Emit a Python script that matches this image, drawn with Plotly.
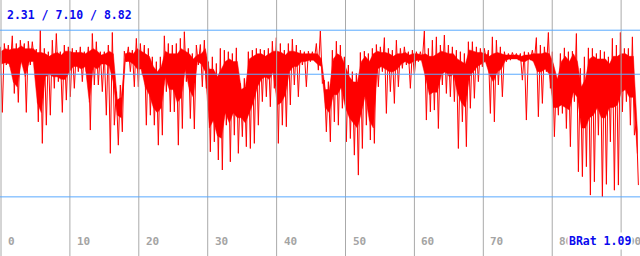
import numpy as np
import plotly.graph_objects as go

# Signal read per ~0.58 x-unit column (value scale 0..10)
# peak / trough: extreme excursions in each column
peak = [
    8.17, 8.30, 8.24, 8.60, 8.30, 8.43, 8.30, 8.39, 8.37, 8.08, 8.82, 8.11, 7.98, 8.43, 8.69, 7.98,
    8.24, 8.17, 8.11, 8.04, 8.17, 7.98, 8.17, 8.69, 8.37, 7.98, 7.98, 8.24, 8.73, 6.42, 6.68, 8.00,
    8.17, 8.04, 8.50, 8.30, 8.24, 8.11, 7.78, 7.59, 7.78, 8.60, 8.30, 8.24, 8.30, 8.50, 8.76, 8.11,
    7.91, 8.24, 8.26, 8.43, 7.59, 7.78, 7.52, 8.11, 8.04, 7.98, 7.91, 8.13, 6.74, 6.94, 7.98, 8.04,
    8.11, 8.08, 8.04, 8.11, 8.39, 8.53, 8.30, 8.04, 8.30, 8.47, 8.24, 8.04, 7.98, 8.00, 7.98, 8.30,
    8.79, 6.87, 6.81, 8.04, 8.39, 8.24, 7.78, 7.46, 7.20, 7.13, 7.95, 8.00, 7.91, 8.11, 8.26, 8.17,
    8.53, 8.11, 8.04, 8.43, 8.11, 8.17, 7.98, 8.04, 7.98, 7.98, 8.79, 8.11, 8.43, 8.56, 8.24, 8.63,
    8.24, 8.17, 8.04, 7.98, 7.91, 8.37, 8.37, 8.17, 8.11, 8.11, 8.04, 8.56, 8.43, 8.17, 7.98, 7.91,
    7.95, 7.91, 7.91, 7.98, 7.95, 8.04, 8.53, 8.24, 8.17, 8.73, 7.98, 6.94, 7.91, 8.13, 7.98, 8.00,
    8.69, 7.33, 7.78, 8.13, 8.11, 7.91, 8.04, 7.98, 7.78, 8.50, 8.24, 8.73, 8.11, 8.11, 8.56, 5.24,
]
trough = [
    5.61, 7.46, 7.39, 6.35, 6.00, 7.59, 5.61, 7.46, 7.59, 5.24, 4.40, 5.11, 5.50, 6.55, 6.81, 5.61,
    6.09, 6.22, 6.55, 7.20, 6.81, 7.20, 4.92, 6.68, 6.68, 6.42, 5.50, 4.01, 5.11, 4.33, 4.85, 7.59,
    7.20, 6.61, 6.61, 7.07, 5.11, 5.50, 5.11, 4.33, 4.72, 6.42, 5.63, 5.63, 4.33, 4.98, 6.81, 5.37,
    4.96, 7.46, 6.61, 6.55, 4.07, 4.46, 3.75, 3.36, 5.11, 3.68, 4.72, 4.01, 4.66, 4.27, 4.20, 4.40,
    5.11, 6.03, 6.22, 5.83, 6.55, 4.40, 5.11, 5.05, 5.90, 6.68, 6.22, 7.46, 6.61, 7.59, 7.65, 7.26,
    6.74, 4.85, 4.46, 5.24, 5.11, 5.77, 4.46, 4.59, 3.94, 3.16, 4.20, 5.11, 4.53, 4.40, 6.61, 7.20,
    5.57, 6.42, 5.96, 6.61, 7.33, 7.46, 6.55, 7.07, 7.59, 7.65, 5.31, 5.63, 5.70, 4.98, 6.68, 6.35,
    6.22, 6.03, 4.20, 5.24, 4.27, 5.77, 6.16, 6.81, 7.39, 7.59, 5.57, 5.24, 6.68, 6.22, 7.59, 7.65,
    7.72, 7.65, 6.87, 5.31, 7.65, 7.59, 5.44, 5.96, 7.20, 6.55, 4.66, 5.50, 5.57, 4.98, 4.27, 6.03,
    3.29, 3.10, 3.49, 2.38, 2.90, 4.72, 2.31, 2.80, 4.46, 2.57, 2.77, 5.63, 6.03, 5.11, 4.72, 2.77,
]
# band_top / band_bottom: limits of the densely filled core of the signal in each column
band_top = [
    8.00, 8.10, 8.05, 8.10, 8.10, 8.20, 8.10, 8.10, 8.10, 7.95, 7.95, 7.90, 7.80, 7.90, 7.95, 7.85,
    8.00, 8.00, 7.95, 7.95, 7.95, 7.90, 8.00, 8.10, 8.00, 7.85, 7.90, 8.00, 7.90, 6.10, 6.20, 7.90,
    7.95, 7.90, 8.10, 8.00, 7.90, 7.80, 7.40, 7.20, 7.40, 8.00, 7.90, 7.90, 7.90, 8.10, 8.00, 7.90,
    7.70, 7.85, 7.90, 8.10, 7.30, 7.30, 7.00, 7.30, 7.60, 7.70, 7.60, 7.60, 6.50, 6.60, 7.70, 7.80,
    7.90, 7.90, 7.80, 7.90, 8.00, 8.00, 7.95, 7.85, 8.00, 8.00, 7.95, 7.90, 7.90, 7.90, 7.90, 7.90,
    7.70, 6.50, 6.50, 7.70, 7.90, 7.80, 7.40, 7.00, 6.80, 6.80, 7.60, 7.80, 7.60, 7.90, 8.00, 7.95,
    7.95, 7.90, 7.80, 7.90, 7.90, 7.95, 7.85, 7.90, 7.90, 7.85, 7.90, 7.80, 7.80, 7.90, 8.00, 7.95,
    7.90, 7.90, 7.70, 7.60, 7.50, 8.05, 8.00, 7.95, 7.95, 7.90, 7.80, 7.90, 7.95, 7.90, 7.85, 7.85,
    7.85, 7.85, 7.80, 7.85, 7.85, 7.90, 7.90, 7.90, 7.95, 7.90, 7.50, 6.90, 7.60, 7.80, 7.60, 7.90,
    7.60, 6.60, 6.90, 7.70, 7.80, 7.70, 7.70, 7.70, 7.50, 7.80, 7.80, 7.90, 7.90, 7.80, 7.80, 4.90,
]
band_bottom = [
    7.50, 7.55, 7.50, 6.80, 6.60, 7.60, 7.00, 7.60, 7.60, 6.00, 5.60, 7.00, 7.10, 7.00, 7.00, 6.90,
    6.90, 7.20, 7.40, 7.40, 7.30, 7.40, 6.00, 7.40, 7.30, 7.50, 7.50, 7.40, 6.80, 5.50, 5.40, 7.60,
    7.60, 7.50, 7.30, 7.30, 6.60, 6.30, 5.80, 5.60, 5.80, 7.00, 6.50, 6.50, 6.00, 6.20, 7.30, 6.50,
    6.20, 7.60, 7.50, 7.20, 5.00, 5.30, 4.70, 4.60, 5.60, 5.20, 5.60, 5.40, 5.40, 5.20, 5.60, 6.00,
    6.60, 6.90, 7.00, 6.90, 7.20, 5.90, 6.00, 6.30, 7.20, 7.40, 7.40, 7.60, 7.60, 7.65, 7.65, 7.50,
    7.40, 5.80, 5.60, 6.30, 6.30, 6.60, 5.80, 5.40, 5.20, 5.00, 5.60, 6.30, 5.30, 5.00, 7.30, 7.40,
    7.30, 7.20, 7.20, 7.30, 7.50, 7.60, 7.50, 7.60, 7.65, 7.65, 7.00, 6.30, 6.40, 6.40, 7.10, 7.20,
    7.00, 7.10, 6.40, 6.00, 5.80, 7.00, 7.20, 7.40, 7.50, 7.60, 7.10, 6.80, 7.20, 7.30, 7.65, 7.70,
    7.70, 7.70, 7.60, 7.60, 7.70, 7.60, 7.20, 7.20, 7.30, 7.10, 5.80, 5.80, 5.90, 5.80, 5.70, 6.40,
    6.20, 5.00, 5.00, 5.40, 5.50, 5.80, 5.40, 5.40, 5.80, 5.80, 5.90, 6.40, 6.50, 6.20, 6.20, 4.00,
]

ref_levels = [2.31, 7.10, 8.82]
stats_text = "2.31 / 7.10 / 8.82"
x_ticks = [0, 10, 20, 30, 40, 50, 60, 70, 80, 90]
brat_text = "BRat 1.09"

t_start = -0.1
column_step = 0.5806  # x-units per column
n_col = len(peak)
col_t = t_start + np.arange(n_col) * column_step
values = np.column_stack([peak, trough]).ravel()
t = np.column_stack([col_t, col_t + column_step / 2]).ravel()
band_t = col_t + column_step / 4

fig = go.Figure()
# dense core of the signal
fig.add_trace(go.Scatter(
    x=np.concatenate([band_t, band_t[::-1]]),
    y=np.concatenate([band_top, band_bottom[::-1]]),
    mode="lines", fill="toself", fillcolor="#ff0000",
    line=dict(color="#ff0000", width=0.5), hoverinfo="skip"))
# spiky excursions
fig.add_trace(go.Scatter(x=t, y=values, mode="lines",
                         line=dict(color="#ff0000", width=1), hoverinfo="skip"))

shapes = []
for v in x_ticks:
    shapes.append(dict(type="line", xref="x", yref="paper", x0=v, x1=v, y0=0, y1=1,
                       line=dict(color="#aaaaaa", width=1), layer="above"))
for lv in ref_levels:
    shapes.append(dict(type="line", xref="paper", yref="y", x0=0, x1=1, y0=lv, y1=lv,
                       line=dict(color="#5aaaff", width=1), layer="above"))

annotations = []
label_y = (256 - 241) / 256
for v in x_ticks:
    annotations.append(dict(x=v, y=label_y, xref="x", yref="paper", text=str(v),
                            showarrow=False, xanchor="left", yanchor="middle", xshift=5,
                            font=dict(family="DejaVu Sans Mono", size=11, color="#a4a4a4",
                                      weight="bold")))
annotations.append(dict(x=0, y=(256 - 15) / 256, xref="paper", yref="paper", text=stats_text,
                        showarrow=False, xanchor="left", yanchor="middle", xshift=5,
                        font=dict(family="DejaVu Sans Mono", size=11.5, color="#0a0aee",
                                  weight="bold")))
annotations.append(dict(x=633 / 640, y=label_y, xref="paper", yref="paper", text=brat_text,
                        showarrow=False, xanchor="right", yanchor="middle", bgcolor="#ffffff",
                        borderpad=1,
                        font=dict(family="DejaVu Sans Mono", size=11.5, color="#0a0aee",
                                  weight="bold")))

fig.update_layout(
    width=640, height=256, margin=dict(l=0, r=0, t=0, b=0),
    paper_bgcolor="#ffffff", plot_bgcolor="#ffffff", showlegend=False,
    xaxis=dict(range=[-0.145, 92.74], showgrid=False, zeroline=False, showticklabels=False,
               fixedrange=True),
    yaxis=dict(range=[0, 10], showgrid=False, zeroline=False, showticklabels=False,
               fixedrange=True),
    shapes=shapes, annotations=annotations,
)

fig.write_html("out.html", config={"displayModeBar": False})
